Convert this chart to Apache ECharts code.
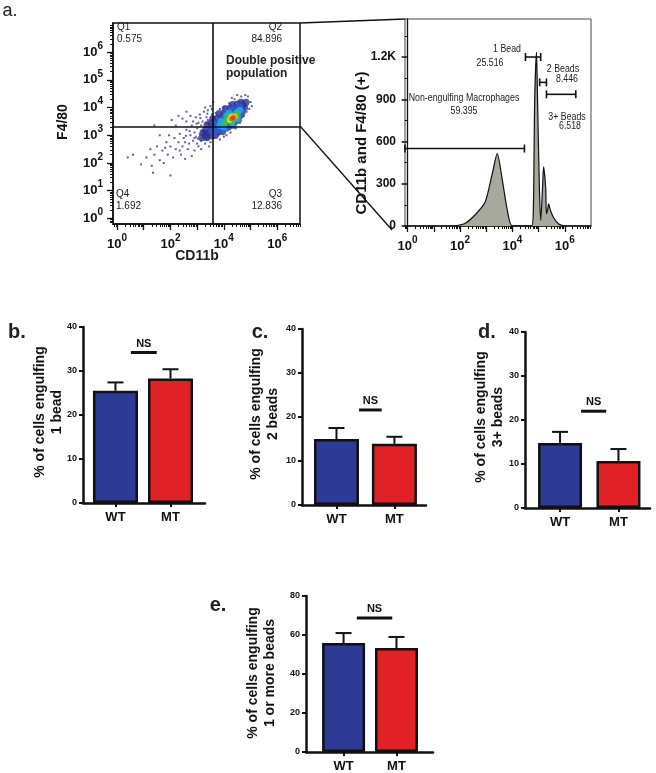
<!DOCTYPE html>
<html>
<head>
<meta charset="utf-8">
<script src="https://cdn.jsdelivr.net/npm/echarts@6/dist/echarts.min.js"></script>
<style>
  html, body { margin: 0; padding: 0; background: #fff; }
  #chart { width: 656px; height: 773px; }
</style>
</head>
<body>
<div id="chart"></div>
<script>
// ---- panel a: flow scatter (log10 units) ----
const quadX = 3.58
const quadY = 3.32
const scatterSparse = [
  [3.5,3.4],[3.45,3.2],[3.4,3.0],[3.3,3.3],[3.2,3.15],[3.35,2.85],[3.5,2.75],[3.55,3.55],[3.25,2.95],[3.1,3.05],
  [3.0,3.25],[2.95,2.95],[3.15,2.8],[3.4,3.55],[3.05,3.45],[2.9,3.1],[2.85,2.8],[3.6,2.9],[3.3,2.7],[3.45,2.6],
  [3.2,3.5],[3.0,2.7],[2.8,3.35],[3.55,3.75],[3.35,3.65],[3.65,3.3],[3.62,3.1],[3.7,2.95],[3.05,2.6],[2.75,3.0],
  [2.7,2.7],[2.6,3.2],[2.65,2.5],[2.9,2.45],[3.15,2.5],[2.5,2.9],[2.45,2.6],[2.4,2.3],[2.3,2.75],[2.2,2.5],
  [2.1,2.2],[2.0,2.6],[1.9,2.3],[1.85,2.75],[1.7,2.45],[1.6,2.1],[1.5,2.6],[1.4,2.3],[1.3,1.9],[1.25,2.5],
  [1.1,2.2],[0.9,1.95],[0.6,2.3],[0.4,2.2],[1.35,1.65],[2.0,1.55],[1.75,2.0],[2.55,2.15],[2.8,2.25],[2.35,3.05],
  [2.15,2.9],[1.95,3.0],[2.6,3.5],[2.75,3.7],[2.95,3.65],[3.1,3.75],[3.25,3.85],[2.2,3.35],[2.45,3.6],[1.6,3.0],
  [3.4,3.9],[3.5,4.05],[3.3,4.0],[3.55,3.95],[3.6,4.2],[4.9,4.4],[5.0,4.2],[4.95,3.95],[4.8,4.45],[4.65,4.4],
  [4.4,4.3],[4.2,4.15],[4.75,3.7],[4.6,3.45],[4.45,3.25],[4.25,3.1],[4.0,2.95],[3.85,2.85],[4.1,3.0],[3.8,3.0],
  [4.85,3.85],[5.05,4.05],[4.5,4.45],[4.3,4.35],[4.0,4.0],[3.85,3.95],[3.7,3.8],[2.05,3.55],[2.3,3.7],[2.6,3.85],
  [1.4,3.35],[3.35,3.45],[3.15,3.35],[2.9,2.9],[3.45,2.95],[3.6,3.45],[3.7,3.15],[3.25,3.1],[2.55,2.75],[2.85,3.5],
  [3.12,3.62],[2.98,3.42],[2.72,3.15],[2.58,2.98],[3.38,3.78],[3.02,2.88],[2.35,2.45],[1.8,2.55]
]
const blobNavy = [
  [3.29,3.00],[3.22,3.10],[3.36,2.91],[3.17,2.91],[3.68,2.99],[3.53,3.18],[3.37,3.38],[3.95,3.13],[3.82,3.29],
  [3.70,3.45],[3.58,3.60],[4.18,3.31],[4.06,3.47],[3.94,3.63],[3.82,3.79],[4.42,3.50],[4.30,3.65],[4.18,3.81],
  [4.05,3.97],[4.63,3.72],[4.47,3.92],[4.32,4.11],[4.71,4.10],[4.64,4.19],[4.78,4.00],[4.83,4.19],
  [3.41,3.09],[3.32,3.21],[3.50,2.97],[3.64,3.28],[3.52,3.43],[3.77,3.12],[3.88,3.46],[3.76,3.62],[4.00,3.30],
  [4.12,3.64],[4.00,3.80],[4.24,3.48],[4.36,3.83],[4.24,3.98],[4.48,3.67],[4.59,4.01],[4.50,4.13],[4.68,3.89]
]
const blobBlue = [
  [3.55,3.15],[3.7,3.25],[3.85,3.2],[3.75,3.45],[3.95,3.6],[4.1,3.85],[4.35,3.95],[4.6,4.05],[4.7,3.85],
  [4.55,3.55],[4.35,3.35],[4.1,3.25],[3.65,3.05],[3.9,3.35],[4.25,3.7],[4.45,3.85],[4.0,3.5]
]
const blobCyan = [
  [3.85,3.35],[4.0,3.45],[4.15,3.55],[4.35,3.7],[4.5,3.82],[4.0,3.3],[4.3,3.45],[4.1,3.7],[4.45,3.6],
  [4.6,3.9],[3.9,3.5],[4.2,3.8]
]
const blobGreen = [[4.05,3.45],[4.2,3.55],[4.35,3.65],[4.45,3.75],[4.15,3.65],[4.3,3.5],[4.5,3.68]]
const blobYellow = [[4.22,3.55],[4.32,3.62],[4.4,3.68],[4.28,3.68]]
const blobRed = [[4.3,3.6],[4.36,3.64]]

// ---- panel a: histogram (log10 position, count) ----
const histPos = [1.8, 2.2, 2.58, 2.96, 3.23, 3.42, 3.62, 3.81, 4.0,
  4.73, 4.8, 4.85, 4.92, 4.96, 5.03, 5.08, 5.15, 5.19, 5.27, 5.3, 5.35, 5.38, 5.46, 5.58, 5.77, 5.96]
const histCount = [0, 20, 80, 170, 371, 514, 321, 107, 0,
  0, 130, 890, 1235, 890, 270, 40, 270, 420, 270, 86, 121, 157, 107, 57, 14, 0]
// gates: [from, to, level]
const gates = [[-0.1, 4.46, 550], [4.5, 5.08, 1200], [5.04, 5.3, 1020], [5.3, 6.42, 935]]

// ---- axes ----
const decadeTicks = [0, 1, 2, 3, 4, 5, 6]
const evenDecades = [0, 2, 4, 6]
const histYTicks = [0, 300, 600, 900, 1200]
const histYLabels = ['0', '300', '600', '900', '1.2K']
const histYMinor = [150, 450, 750, 1050, 1350]

// ---- panels b-e ----
const categories = ['WT', 'MT']
const oneBead = [25.5, 28.3]
const oneBeadErr = [1.9, 2.1]
const twoBeads = [15.0, 13.9]
const twoBeadsErr = [2.5, 1.6]
const threeBeads = [14.8, 10.7]
const threeBeadsErr = [2.5, 2.7]
const anyBeads = [55.9, 53.3]
const anyBeadsErr = [5.1, 5.7]
// NS bar: [from, to, level] in category units
const nsOne = [0.28, 0.75, 34.2]
const nsTwo = [0.39, 0.78, 21.6]
const nsThree = [0.36, 0.79, 22.0]
const nsAny = [0.25, 0.92, 68.7]

const FONT = '"Liberation Sans", Arial, sans-serif'
const barColors = ['#2d3a96', '#e02226']

function minorLog(lo, hi) {
  const out = []
  for (let n = -1; n < 7; n++) {
    for (let k = 2; k < 10; k++) {
      const v = n + Math.log10(k)
      if (v > lo && v < hi) out.push(v)
    }
  }
  return out
}

const powRich = {
  b: { fontSize: 13, fontWeight: 'bold', fontFamily: FONT, color: '#111' },
  s: { fontSize: 10, fontWeight: 'bold', fontFamily: FONT, color: '#111', padding: [0, 0, 12, 0] }
}
const powFormatter = v => '{b|10}{s|' + Math.round(v) + '}'

function logMajorAxis(grid, min, max, labels, dim) {
  return {
    gridIndex: grid, type: 'value', min: min, max: max,
    position: dim === 'x' ? 'bottom' : 'left',
    axisLine: { show: true, onZero: false, lineStyle: { color: '#111', width: 1.5 } },
    axisTick: { show: true, customValues: decadeTicks, length: 6, lineStyle: { color: '#111', width: 1.3 } },
    axisLabel: { customValues: labels, formatter: powFormatter, rich: powRich, margin: dim === 'x' ? 9 : 10 },
    splitLine: { show: false }
  }
}
function logMinorAxis(grid, min, max, dim) {
  return {
    gridIndex: grid, type: 'value', min: min, max: max,
    position: dim === 'x' ? 'bottom' : 'left',
    axisLine: { show: false, onZero: false },
    axisTick: { show: true, customValues: minorLog(min, max), length: 3, lineStyle: { color: '#111', width: 1 } },
    axisLabel: { show: false }, splitLine: { show: false }
  }
}

const barPanels = [
  { grid: { left: 83, top: 327, width: 122, height: 176 }, xMin: -0.59, xMax: 1.627, yMax: 40, step: 10, bw: 45,
    vals: oneBead, err: oneBeadErr, ns: nsOne },
  { grid: { left: 302, top: 329, width: 124, height: 176 }, xMin: -0.595, xMax: 1.545, yMax: 40, step: 10, bw: 45,
    vals: twoBeads, err: twoBeadsErr, ns: nsTwo },
  { grid: { left: 525, top: 332, width: 125, height: 176 }, xMin: -0.6, xMax: 1.54, yMax: 40, step: 10, bw: 44,
    vals: threeBeads, err: threeBeadsErr, ns: nsThree },
  { grid: { left: 306, top: 596, width: 127, height: 156 }, xMin: -0.71, xMax: 1.69, yMax: 80, step: 20, bw: 43,
    vals: anyBeads, err: anyBeadsErr, ns: nsAny }
]

const grids = [
  { left: 113, top: 23, width: 187, height: 201, show: true, borderColor: '#111', borderWidth: 1.5 },
  { left: 405, top: 19, width: 186, height: 207, show: true, borderColor: '#444', borderWidth: 1 }
]
const xAxes = [
  logMajorAxis(0, -0.15, 6.85, evenDecades, 'x'),
  logMinorAxis(0, -0.15, 6.85, 'x'),
  logMajorAxis(1, -0.1, 7.0, evenDecades, 'x'),
  logMinorAxis(1, -0.1, 7.0, 'x')
]
const yAxes = [
  logMajorAxis(0, -0.2, 7.05, decadeTicks, 'y'),
  logMinorAxis(0, -0.2, 7.05, 'y'),
  {
    gridIndex: 1, type: 'value', min: 0, max: 1470, position: 'left',
    axisLine: { show: true, lineStyle: { color: '#111', width: 1.3 } },
    axisTick: { show: true, customValues: histYTicks, length: 6, lineStyle: { color: '#111', width: 1.5 } },
    axisLabel: {
      customValues: histYTicks, margin: 9, color: '#111',
      fontFamily: FONT, fontWeight: 'bold', fontSize: 12,
      formatter: v => histYLabels[histYTicks.indexOf(v)]
    },
    splitLine: { show: false }
  },
  {
    gridIndex: 1, type: 'value', min: 0, max: 1470, position: 'left',
    axisLine: { show: false },
    axisTick: { show: true, customValues: histYMinor, length: 3, lineStyle: { color: '#111', width: 1 } },
    axisLabel: { show: false }, splitLine: { show: false }
  }
]

const series = [
  { type: 'scatter', xAxisIndex: 0, yAxisIndex: 0, data: scatterSparse, symbol: 'rect', symbolSize: 2,
    itemStyle: { color: '#3a3590' }, silent: true,
    markLine: {
      silent: true, symbol: 'none', animation: false,
      lineStyle: { color: '#111', width: 1.6, type: 'solid' }, label: { show: false },
      data: [{ xAxis: quadX }, { yAxis: quadY }]
    } },
  { type: 'scatter', xAxisIndex: 0, yAxisIndex: 0, data: blobNavy, symbolSize: 7, itemStyle: { color: '#2d2f92' } },
  { type: 'scatter', xAxisIndex: 0, yAxisIndex: 0, data: blobBlue, symbolSize: 7, itemStyle: { color: '#2f5ad8' } },
  { type: 'scatter', xAxisIndex: 0, yAxisIndex: 0, data: blobCyan, symbolSize: 7, itemStyle: { color: '#1fb0e0' } },
  { type: 'scatter', xAxisIndex: 0, yAxisIndex: 0, data: blobGreen, symbolSize: 7, itemStyle: { color: '#3cbf45' } },
  { type: 'scatter', xAxisIndex: 0, yAxisIndex: 0, data: blobYellow, symbolSize: 6, itemStyle: { color: '#f0dc1c' } },
  { type: 'scatter', xAxisIndex: 0, yAxisIndex: 0, data: blobRed, symbolSize: 5, itemStyle: { color: '#e6341c' } },
  { type: 'line', xAxisIndex: 2, yAxisIndex: 2, data: histPos.map((p, i) => [p, histCount[i]]),
    smooth: 0.25, symbol: 'none', lineStyle: { color: '#111', width: 1.2 },
    areaStyle: { color: '#a9a89d', opacity: 1 } },
  { type: 'custom', xAxisIndex: 2, yAxisIndex: 2, data: gates, z: 5,
    renderItem: (params, api) => {
      const a = api.coord([api.value(0), api.value(2)])
      const b = api.coord([api.value(1), api.value(2)])
      const st = { stroke: '#111', lineWidth: 1.6 }
      return { type: 'group', children: [
        { type: 'line', shape: { x1: a[0], y1: a[1], x2: b[0], y2: b[1] }, style: st },
        { type: 'line', shape: { x1: a[0], y1: a[1] - 4, x2: a[0], y2: a[1] + 4 }, style: st },
        { type: 'line', shape: { x1: b[0], y1: b[1] - 4, x2: b[0], y2: b[1] + 4 }, style: st }
      ] }
    } }
]

barPanels.forEach((p, i) => {
  const g = grids.length
  grids.push(p.grid)
  const xi = xAxes.length
  const yi = yAxes.length
  xAxes.push({
    gridIndex: g, type: 'value', min: p.xMin, max: p.xMax, position: 'bottom',
    axisLine: { show: true, onZero: false, lineStyle: { color: '#111', width: 2.5 } },
    axisTick: { show: true, customValues: [0, 1], length: 4, lineStyle: { color: '#111', width: 2 } },
    axisLabel: { customValues: [0, 1], formatter: v => categories[Math.round(v)], margin: 8,
      color: '#111', fontFamily: FONT, fontWeight: 'bold', fontSize: 13 },
    splitLine: { show: false }
  })
  yAxes.push({
    gridIndex: g, type: 'value', min: 0, max: p.yMax, interval: p.step, position: 'left',
    axisLine: { show: true, onZero: false, lineStyle: { color: '#111', width: 2.5 } },
    axisTick: { show: true, length: 4, lineStyle: { color: '#111', width: 2 } },
    axisLabel: { margin: 6, color: '#111', fontFamily: FONT, fontWeight: 'bold', fontSize: 9 },
    splitLine: { show: false }
  })
  series.push({
    type: 'bar', xAxisIndex: xi, yAxisIndex: yi, barWidth: p.bw,
    data: p.vals.map((v, k) => ({ value: [k, v], itemStyle: { color: barColors[k] } })),
    itemStyle: { borderColor: '#111', borderWidth: 2.5 }
  })
  series.push({
    type: 'custom', xAxisIndex: xi, yAxisIndex: yi, z: 5,
    data: p.vals.map((v, k) => [k, v, p.err[k]]),
    renderItem: (params, api) => {
      const a = api.coord([api.value(0), api.value(1)])
      const b = api.coord([api.value(0), api.value(1) + api.value(2)])
      const st = { stroke: '#111', lineWidth: 2 }
      return { type: 'group', children: [
        { type: 'line', shape: { x1: a[0], y1: a[1], x2: b[0], y2: b[1] }, style: st },
        { type: 'line', shape: { x1: b[0] - 8, y1: b[1], x2: b[0] + 8, y2: b[1] }, style: st }
      ] }
    }
  })
  series.push({
    type: 'custom', xAxisIndex: xi, yAxisIndex: yi, z: 5, data: [p.ns],
    renderItem: (params, api) => {
      const a = api.coord([api.value(0), api.value(2)])
      const b = api.coord([api.value(1), api.value(2)])
      return { type: 'group', children: [
        { type: 'line', shape: { x1: a[0], y1: a[1], x2: b[0], y2: b[1] }, style: { stroke: '#111', lineWidth: 3 } },
        { type: 'text', x: (a[0] + b[0]) / 2, y: a[1] - 9,
          style: { text: 'NS', font: 'bold 11px ' + FONT, fill: '#111', align: 'center', verticalAlign: 'middle' } }
      ] }
    }
  })
})

function txt(text, x, y, font, opts) {
  return Object.assign({ type: 'text', x: x, y: y, z: 100,
    style: { text: text, font: font, fill: '#222', align: 'center', verticalAlign: 'middle' } }, opts || {})
}
function rot(text, x, y, font) {
  return { type: 'text', x: x, y: y, rotation: Math.PI / 2, z: 100,
    style: { text: text, font: font, fill: '#111', align: 'center', verticalAlign: 'middle', lineHeight: 17 } }
}
const small = '10px ' + FONT
const gateFont = '11px ' + FONT
const narrow = { scaleX: 0.8 }
const graphic = [
  txt('a.', 10, 11, '18px ' + FONT),
  { type: 'line', z: 50, shape: { x1: 300, y1: 23, x2: 405, y2: 19 }, style: { stroke: '#111', lineWidth: 1.3 } },
  { type: 'line', z: 50, shape: { x1: 300, y1: 126, x2: 392, y2: 230 }, style: { stroke: '#111', lineWidth: 1.3 } },
  { type: 'text', x: 117, y: 33, style: { text: 'Q1\n0.575', font: small, fill: '#222', lineHeight: 12, verticalAlign: 'middle' } },
  { type: 'text', x: 282, y: 33, style: { text: 'Q2\n84.896', font: small, fill: '#222', lineHeight: 12, align: 'right', verticalAlign: 'middle' } },
  { type: 'text', x: 116, y: 200, style: { text: 'Q4\n1.692', font: small, fill: '#222', lineHeight: 12, verticalAlign: 'middle' } },
  { type: 'text', x: 282, y: 200, style: { text: 'Q3\n12.836', font: small, fill: '#222', lineHeight: 12, align: 'right', verticalAlign: 'middle' } },
  { type: 'text', x: 226, y: 67, style: { text: 'Double positive\npopulation', font: 'bold 12px ' + FONT, fill: '#222', lineHeight: 13, verticalAlign: 'middle' } },
  rot('F4/80', 63, 122, 'bold 14px ' + FONT),
  txt('CD11b', 197, 256, 'bold 14px ' + FONT, {}),
  rot('CD11b and F4/80 (+)', 362, 143, 'bold 15px ' + FONT),
  txt('Non-engulfing Macrophages', 464, 98, gateFont, narrow),
  txt('59.395', 464, 111, gateFont, narrow),
  txt('1 Bead', 507, 49, gateFont, narrow),
  txt('25.516', 490, 63, gateFont, narrow),
  txt('2 Beads', 563, 69, gateFont, narrow),
  txt('8.446', 567, 79, gateFont, narrow),
  txt('3+ Beads', 567, 117, gateFont, narrow),
  txt('6.518', 570, 126, gateFont, narrow),
  txt('b.', 17, 332, 'bold 20px ' + FONT),
  txt('c.', 260, 332, 'bold 20px ' + FONT),
  txt('d.', 487, 332, 'bold 20px ' + FONT),
  txt('e.', 218, 605, 'bold 20px ' + FONT),
  rot('% of cells engulfing\n1 bead', 49, 412, 'bold 14px ' + FONT),
  rot('% of cells engulfing\n2 beads', 265, 414, 'bold 14px ' + FONT),
  rot('% of cells engulfing\n3+ beads', 490, 417, 'bold 14px ' + FONT),
  rot('% of cells engulfing\n1 or more beads', 262, 673, 'bold 14px ' + FONT)
]

const chart = echarts.init(document.getElementById('chart'))
chart.setOption({
  animation: false,
  backgroundColor: '#fff',
  grid: grids,
  xAxis: xAxes,
  yAxis: yAxes,
  series: series,
  graphic: graphic
})
</script>
</body>
</html>
